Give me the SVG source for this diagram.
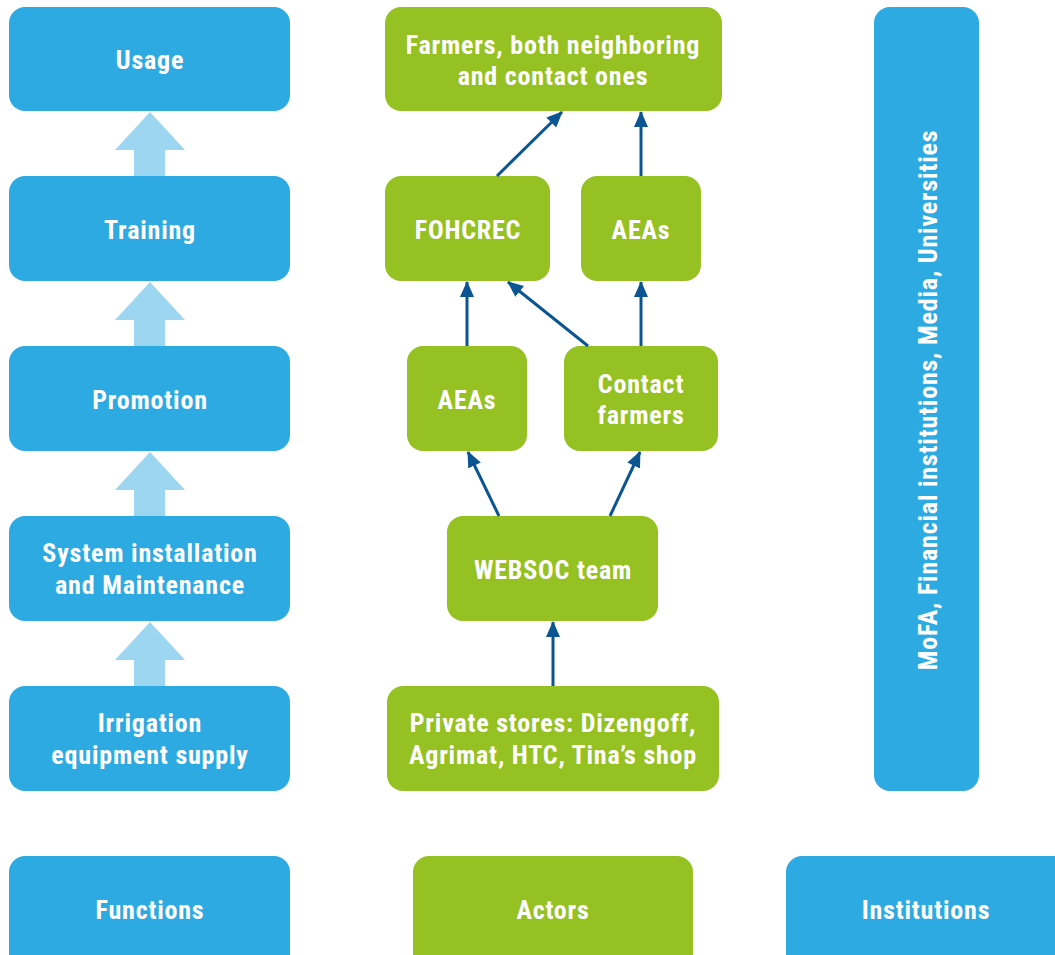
<svg xmlns="http://www.w3.org/2000/svg" width="1055" height="955" viewBox="0 0 1055 955">
<defs>
<style>
.b{fill:#2eaae2}
.g{fill:#95c122}
.t{fill:#fff;font-family:"Liberation Sans Narrow","Roboto Condensed","DejaVu Sans Condensed","Liberation Sans",sans-serif;font-weight:bold;font-size:26px;text-anchor:middle;letter-spacing:0.8px}
.fa{fill:#9dd6f0}
.c{stroke:#0b5592;stroke-width:3;fill:none;marker-end:url(#ah)}
</style>
<marker id="ah" viewBox="0 0 16 14" refX="15" refY="7" markerWidth="16" markerHeight="14" orient="auto" markerUnits="userSpaceOnUse">
<path d="M0,0 L16,7 L0,14 z" fill="#0b5592"/>
</marker>
</defs>
<rect width="1055" height="955" fill="#fff"/>
<g id="flow-arrows">
<path class="fa" d="M150,112 L185,150 L165,150 L165,176 L134,176 L134,150 L115,150 z"/>
<path class="fa" d="M150,282 L185,320 L165,320 L165,346 L134,346 L134,320 L115,320 z"/>
<path class="fa" d="M150,452 L185,490 L165,490 L165,516 L134,516 L134,490 L115,490 z"/>
<path class="fa" d="M150,622 L185,660 L165,660 L165,686 L134,686 L134,660 L115,660 z"/>
</g>
<g id="usage"><rect class="b" x="9" y="7" width="281" height="104" rx="16"/><text class="t" x="150" y="69">Usage</text></g>
<g id="training"><rect class="b" x="9" y="176" width="281" height="105" rx="16"/><text class="t" x="150" y="239">Training</text></g>
<g id="promotion"><rect class="b" x="9" y="346" width="281" height="105" rx="16"/><text class="t" x="150" y="409">Promotion</text></g>
<g id="installation"><rect class="b" x="9" y="516" width="281" height="105" rx="16"/><text class="t" x="150" y="562">System installation</text><text class="t" x="150" y="594">and Maintenance</text></g>
<g id="supply"><rect class="b" x="9" y="686" width="281" height="105" rx="16"/><text class="t" x="150" y="732">Irrigation</text><text class="t" x="150" y="764">equipment supply</text></g>
<g id="farmers"><rect class="g" x="385" y="7" width="337" height="104" rx="16"/><text class="t" x="553" y="54">Farmers, both neighboring</text><text class="t" x="553" y="85">and contact ones</text></g>
<g id="fohcrec"><rect class="g" x="385" y="176" width="165" height="105" rx="16"/><text class="t" x="468" y="239">FOHCREC</text></g>
<g id="aeas-top"><rect class="g" x="581" y="176" width="120" height="105" rx="16"/><text class="t" x="641" y="239">AEAs</text></g>
<g id="aeas-mid"><rect class="g" x="407" y="346" width="120" height="105" rx="16"/><text class="t" x="467" y="409">AEAs</text></g>
<g id="contact"><rect class="g" x="564" y="346" width="154" height="105" rx="16"/><text class="t" x="641" y="393">Contact</text><text class="t" x="641" y="424">farmers</text></g>
<g id="websoc"><rect class="g" x="447" y="516" width="211" height="105" rx="16"/><text class="t" x="553" y="579">WEBSOC team</text></g>
<g id="stores"><rect class="g" x="387" y="686" width="332" height="105" rx="16"/><text class="t" x="553" y="732">Private stores: Dizengoff,</text><text class="t" x="553" y="764">Agrimat, HTC, Tina’s shop</text></g>
<g id="institutions-bar"><rect class="b" x="874" y="7" width="105" height="784" rx="16"/><text class="t" transform="translate(937,400) rotate(-90)" x="0" y="0">MoFA, Financial institutions, Media, Universities</text></g>
<g id="functions"><rect class="b" x="9" y="856" width="281" height="120" rx="16"/><text class="t" x="150" y="919">Functions</text></g>
<g id="actors"><rect class="g" x="413" y="856" width="280" height="120" rx="16"/><text class="t" x="553" y="919">Actors</text></g>
<g id="institutions"><rect class="b" x="786" y="856" width="300" height="120" rx="16"/><text class="t" x="926" y="919">Institutions</text></g>
<g id="connectors">
<line class="c" x1="497" y1="176" x2="562" y2="112"/>
<line class="c" x1="641" y1="176" x2="641" y2="112"/>
<line class="c" x1="467" y1="346" x2="467" y2="282"/>
<line class="c" x1="588" y1="346" x2="508" y2="282"/>
<line class="c" x1="641" y1="346" x2="641" y2="282"/>
<line class="c" x1="499" y1="516" x2="468" y2="452"/>
<line class="c" x1="610" y1="516" x2="640" y2="452"/>
<line class="c" x1="553" y1="686" x2="553" y2="622"/>
</g>
</svg>
